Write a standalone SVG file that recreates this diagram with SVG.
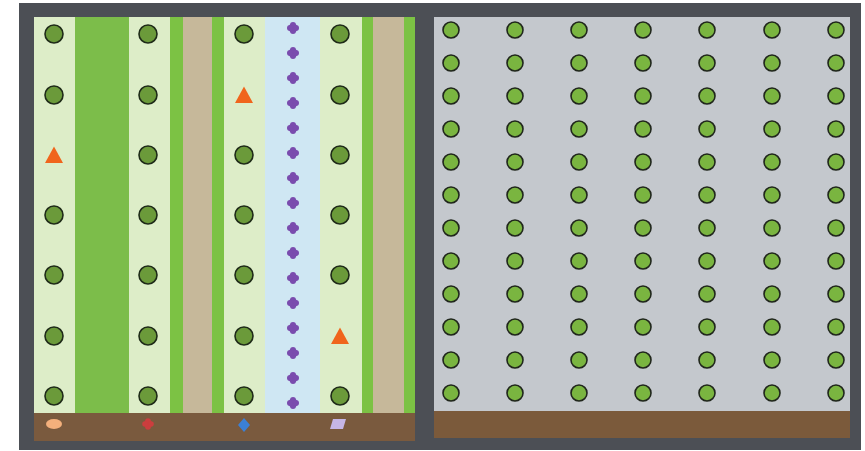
<svg xmlns="http://www.w3.org/2000/svg" width="865" height="451" viewBox="0 0 865 451">
<defs>
<style>
.tree{fill:#6b9a3a;stroke:#1e2a18;stroke-width:1.6}
.tree2{fill:#7ab540;stroke:#20261c;stroke-width:1.6}
.tri{fill:#f0651c}
.dot{fill:#7a4cae}
</style>
<g id="dp"><circle class="dot" r="4.6"/><circle class="dot" cx="0" cy="-3" r="3"/><circle class="dot" cx="0" cy="3" r="3"/><circle class="dot" cx="-3" cy="0" r="3"/><circle class="dot" cx="3" cy="0" r="3"/></g>
<polygon id="tr" class="tri" points="0,-9.5 9,7 -9,7"/>
<circle id="c1" class="tree" r="9"/>
<circle id="c2" class="tree2" r="8"/>
</defs>
<rect x="0" y="0" width="865" height="451" fill="#ffffff"/>
<g id="frame">
<rect x="19" y="3" width="842" height="447" fill="#4c4f55"/>
</g>
<g id="left-panel">
<rect x="34" y="17" width="381" height="396" fill="#ddedc8"/>
<rect x="75" y="17" width="54" height="396" fill="#7cbd4a"/>
<rect x="170" y="17" width="13" height="396" fill="#7cc244"/>
<rect x="183" y="17" width="29" height="396" fill="#c6b89a"/>
<rect x="212" y="17" width="12" height="396" fill="#7cc244"/>
<rect x="265" y="17" width="55" height="396" fill="#cfe7f3"/>
<rect x="362" y="17" width="11" height="396" fill="#7cc244"/>
<rect x="373" y="17" width="31" height="396" fill="#c6b89a"/>
<rect x="404" y="17" width="11" height="396" fill="#7cc244"/>
<rect x="34" y="413" width="381" height="28" fill="#7a5a3e"/>
</g>
<g id="left-trees">
<use href="#c1" x="54" y="34"/><use href="#c1" x="54" y="95"/><use href="#c1" x="54" y="215"/><use href="#c1" x="54" y="275"/><use href="#c1" x="54" y="336"/><use href="#c1" x="54" y="396"/>
<use href="#c1" x="148" y="34"/><use href="#c1" x="148" y="95"/><use href="#c1" x="148" y="155"/><use href="#c1" x="148" y="215"/><use href="#c1" x="148" y="275"/><use href="#c1" x="148" y="336"/><use href="#c1" x="148" y="396"/>
<use href="#c1" x="244" y="34"/><use href="#c1" x="244" y="155"/><use href="#c1" x="244" y="215"/><use href="#c1" x="244" y="275"/><use href="#c1" x="244" y="336"/><use href="#c1" x="244" y="396"/>
<use href="#c1" x="340" y="34"/><use href="#c1" x="340" y="95"/><use href="#c1" x="340" y="155"/><use href="#c1" x="340" y="215"/><use href="#c1" x="340" y="275"/><use href="#c1" x="340" y="396"/>
</g>
<g id="triangles">
<use href="#tr" x="54" y="156"/><use href="#tr" x="244" y="96"/><use href="#tr" x="340" y="337"/>
</g>
<g id="purple-dots">
<use href="#dp" x="293" y="28"/><use href="#dp" x="293" y="53"/><use href="#dp" x="293" y="78"/><use href="#dp" x="293" y="103"/>
<use href="#dp" x="293" y="128"/><use href="#dp" x="293" y="153"/><use href="#dp" x="293" y="178"/><use href="#dp" x="293" y="203"/>
<use href="#dp" x="293" y="228"/><use href="#dp" x="293" y="253"/><use href="#dp" x="293" y="278"/><use href="#dp" x="293" y="303"/>
<use href="#dp" x="293" y="328"/><use href="#dp" x="293" y="353"/><use href="#dp" x="293" y="378"/><use href="#dp" x="293" y="403"/>
</g>
<g id="legend">
<ellipse cx="54" cy="424" rx="8" ry="5" fill="#f4b07c"/>
<g fill="#cc3e3e"><circle cx="148" cy="424" r="4.2"/><circle cx="148" cy="421" r="2.8"/><circle cx="148" cy="427" r="2.8"/><circle cx="145" cy="424" r="2.8"/><circle cx="151" cy="424" r="2.8"/></g>
<polygon points="244,418 250,425 244,432 238,425" fill="#3b80d6"/>
<polygon points="333,419 346,419 343,429 330,429" fill="#c6b6e6"/>
</g>
<g id="right-panel">
<rect x="434" y="17" width="416" height="395" fill="#c4c8cd"/>
<rect x="434" y="411" width="416" height="27" fill="#7b5a3b"/>
</g>
<g id="right-trees">
<g id="col1"><use href="#c2" x="451" y="30"/><use href="#c2" x="451" y="63"/><use href="#c2" x="451" y="96"/><use href="#c2" x="451" y="129"/><use href="#c2" x="451" y="162"/><use href="#c2" x="451" y="195"/><use href="#c2" x="451" y="228"/><use href="#c2" x="451" y="261"/><use href="#c2" x="451" y="294"/><use href="#c2" x="451" y="327"/><use href="#c2" x="451" y="360"/><use href="#c2" x="451" y="393"/></g>
<use href="#col1" x="64"/>
<use href="#col1" x="128"/>
<use href="#col1" x="192"/>
<use href="#col1" x="256"/>
<use href="#col1" x="321"/>
<use href="#col1" x="385"/>
</g>
</svg>
